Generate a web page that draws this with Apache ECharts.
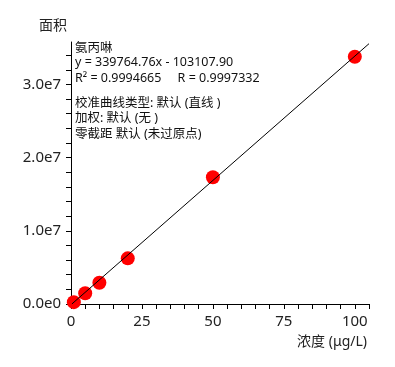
<!DOCTYPE html>
<html><head><meta charset="utf-8">
<script src="https://cdn.jsdelivr.net/npm/echarts@6/dist/echarts.min.js"></script>
<style>html,body{margin:0;padding:0;background:#fff}#c{width:395px;height:367px}</style>
</head><body><div id="c"></div>
<script>
// Calibration points
const concentrations = [1, 5, 10, 20, 50, 100];
const areas = [250000, 1460000, 2910000, 6240000, 17310000, 33780000];
// Fitted line end points (from the equation shown)
const fitX = [0.3, 105];
const fitY = [0, 35571192];
// Ticks and labels
const xTicks = [0,5,10,15,20,25,30,35,40,45,50,55,60,65,70,75,80,85,90,95,100,105];
const xLabels = [0, 25, 50, 75, 100];
const yTicks = [0,2e6,4e6,6e6,8e6,1e7,1.2e7,1.4e7,1.6e7,1.8e7,2e7,2.2e7,2.4e7,2.6e7,2.8e7,3e7,3.2e7,3.4e7];
const yLabels = [0, 1e7, 2e7, 3e7];
const annotation = [
  '氨丙啉',
  'y = 339764.76x - 103107.90',
  'R² = 0.9994665     R = 0.9997332',
  '',
  '校准曲线类型: 默认 (直线 )',
  '加权: 默认 (无 )',
  '零截距 默认 (未过原点)'
];

const FONT = "'Noto Sans', 'Noto Sans CJK SC', sans-serif";
const chart = echarts.init(document.getElementById('c'), null, {renderer: 'canvas'});
const fmtY = v => {
  if (v === 0) return '0.0e0';
  const e = Math.floor(Math.log10(v));
  return (v / Math.pow(10, e)).toFixed(1) + 'e' + e;
};
const annY = [50, 64, 80, 92, 105, 120, 136];
const graphics = [];
annotation.forEach((t, i) => {
  if (!t) return;
  graphics.push({type: 'text', left: 75, top: annY[i] - 8,
    style: {text: t, fontSize: 12.5, fontFamily: FONT, fill: '#111'}});
});
chart.setOption({
  animation: false,
  backgroundColor: '#fff',
  grid: {left: 71, right: 26, top: 42, bottom: 63},
  xAxis: {
    type: 'value', min: 0, max: 105, interval: 5,
    name: '浓度 (μg/L)', nameLocation: 'end', nameGap: -2,
    nameTextStyle: {align: 'right', verticalAlign: 'top', padding: [31, 0, 0, 0], fontSize: 14, fontFamily: FONT, color: '#222'},
    axisLine: {onZero: false, lineStyle: {color: '#000', width: 1}},
    axisTick: {show: true, length: 5, customValues: xTicks, lineStyle: {color: '#000'}},
    axisLabel: {customValues: xLabels, fontSize: 15, fontFamily: FONT, color: '#222', margin: 10},
    splitLine: {show: false}
  },
  yAxis: {
    type: 'value', min: 0, max: 35800000, interval: 2e6,
    name: '面积', nameLocation: 'end', nameGap: 9,
    nameTextStyle: {align: 'right', padding: [0, 4, 0, 0], fontSize: 14, fontFamily: FONT, color: '#222'},
    axisLine: {show: true, onZero: false, lineStyle: {color: '#000', width: 1}},
    axisTick: {show: true, length: 5, customValues: yTicks, lineStyle: {color: '#000'}},
    axisLabel: {customValues: yLabels, formatter: fmtY, fontSize: 15, fontFamily: FONT, color: '#222', margin: 10},
    splitLine: {show: false}
  },
  series: [
    {type: 'line', data: fitX.map((x, i) => [x, fitY[i]]), symbol: 'none',
     lineStyle: {color: '#000', width: 1}, z: 3, silent: true},
    {type: 'scatter', data: concentrations.map((x, i) => [x, areas[i]]),
     symbolSize: 14, itemStyle: {color: '#ff0000', opacity: 1}, z: 2}
  ],
  graphic: graphics
});
</script></body></html>
